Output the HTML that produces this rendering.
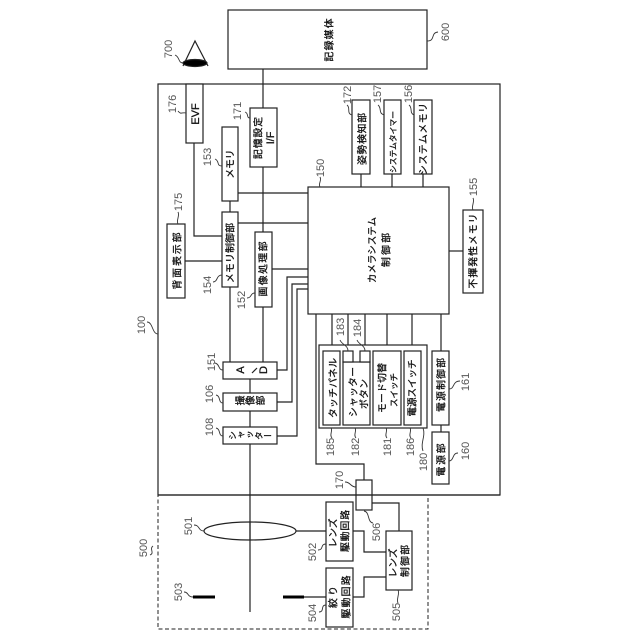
<!DOCTYPE html>
<html><head><meta charset="utf-8"><style>
html,body{margin:0;padding:0;background:#fff}
svg{display:block}
rect,line,polyline,ellipse{fill:none;stroke:#222;stroke-width:1.2}
rect{fill:#fff}
path{fill:none;stroke:#333;stroke-width:.9}
text{font-family:"Liberation Sans","Noto Sans CJK JP",sans-serif;fill:#111;stroke:#111;stroke-width:.3;text-anchor:middle;font-size:9.8px}
.n{font-size:11px;fill:#555;stroke:none}
.l{font-size:11px}
.v{writing-mode:vertical-rl}
</style></head><body>
<svg width="640" height="640" viewBox="0 0 640 640" xmlns="http://www.w3.org/2000/svg">
<!-- connectors -->
<g>
<line x1="263" y1="69" x2="263" y2="362"/>
<line x1="250" y1="379" x2="250" y2="612"/>
<rect x="158" y="84" width="342" height="411" style="fill:none"/>
<rect x="158" y="495" width="270" height="134" style="fill:none;stroke-dasharray:4 2.5;stroke-width:1"/>
<line x1="158" y1="495" x2="500" y2="495"/>
<polyline points="194,143 194,236 222,236"/>
<line x1="230" y1="201" x2="230" y2="212"/>
<line x1="230" y1="287" x2="230" y2="362"/>
<line x1="238" y1="193" x2="308" y2="193"/>
<line x1="238" y1="223" x2="308" y2="223"/>
<line x1="185" y1="261" x2="222" y2="261"/>
<line x1="272" y1="269" x2="308" y2="269"/>
<polyline points="308,277 287,277 287,370 277,370"/>
<polyline points="308,284 292,284 292,402 277,402"/>
<polyline points="308,289 297,289 297,436 277,436"/>
<polyline points="316,314 316,464 364,464 364,480"/>
<line x1="332" y1="314" x2="332" y2="351"/>
<line x1="348" y1="314" x2="348" y2="351"/>
<line x1="365" y1="314" x2="365" y2="351"/>
<line x1="387" y1="314" x2="387" y2="351"/>
<line x1="412" y1="314" x2="412" y2="351"/>
<line x1="441" y1="314" x2="441" y2="351"/>
<line x1="441" y1="425" x2="441" y2="432"/>
<line x1="361" y1="174" x2="361" y2="187"/>
<line x1="392" y1="174" x2="392" y2="187"/>
<line x1="423" y1="174" x2="423" y2="187"/>
<line x1="449" y1="251" x2="463" y2="251"/>
<line x1="296" y1="531" x2="326" y2="531"/>
<line x1="304" y1="597" x2="326" y2="597"/>
<polyline points="353,531 364,531 364,552 386,552"/>
<polyline points="353,597 364,597 364,577 386,577"/>
<polyline points="372,503 399,503 399,531"/>
</g>
<!-- boxes -->
<rect x="228" y="10" width="199" height="59"/>
<rect x="186" y="84" width="17" height="59"/>
<rect x="250" y="108" width="27" height="59"/>
<rect x="222" y="127" width="16" height="74"/>
<rect x="222" y="212" width="16" height="75"/>
<rect x="167" y="224" width="18" height="74"/>
<rect x="255" y="232" width="17" height="75"/>
<rect x="352" y="100" width="18" height="74"/>
<rect x="384" y="100" width="17" height="74"/>
<rect x="414" y="100" width="18" height="74"/>
<rect x="308" y="187" width="141" height="127"/>
<rect x="463" y="210" width="20" height="83"/>
<rect x="223" y="362" width="54" height="17"/>
<rect x="223" y="393" width="54" height="18"/>
<rect x="223" y="427" width="54" height="17"/>
<rect x="319" y="345" width="108" height="83"/>
<rect x="323" y="351" width="17" height="74"/>
<rect x="343" y="362" width="27" height="63"/>
<rect x="343" y="351" width="10" height="11"/>
<rect x="360" y="351" width="10" height="11"/>
<rect x="373" y="351" width="28" height="74"/>
<rect x="404" y="351" width="17" height="74"/>
<rect x="432" y="351" width="17" height="74"/>
<rect x="432" y="432" width="17" height="52"/>
<rect x="356" y="480" width="16" height="30" style="fill:none"/>
<rect x="326" y="502" width="27" height="59"/>
<rect x="326" y="568" width="27" height="59"/>
<rect x="386" y="531" width="26" height="59"/>
<ellipse cx="250" cy="531" rx="46" ry="9"/>
<line x1="250" y1="522" x2="250" y2="540"/>
<rect x="193" y="595.5" width="22" height="3" style="fill:#000;stroke:none"/>
<rect x="283" y="595.5" width="21" height="3" style="fill:#000;stroke:none"/>
<!-- eye -->
<polyline points="183,66 195,41 208,66"/>
<ellipse cx="195" cy="63" rx="12" ry="3.5" style="fill:#000"/>
<line x1="252" y1="373" x2="257" y2="368"/>
<!-- leaders -->
<path d="M175,55C180,57 178,63 183,63"/>
<path d="M178,111C181,115 182,112 186,113"/>
<path d="M245,112C249,113 246,118 250,118"/>
<path d="M215,159C220,161 216,166 222,166"/>
<path d="M320,177C322,181 318,183 320,187"/>
<path d="M347,105C351,108 346,113 352,115"/>
<path d="M378,105C382,108 378,113 384,115"/>
<path d="M409,105C413,108 409,113 414,115"/>
<path d="M427,41C436,41 430,33 438,32"/>
<path d="M178,212C180,216 176,220 178,224"/>
<path d="M213,282C218,282 216,275 222,275"/>
<path d="M247,298C252,298 250,293 255,293"/>
<path d="M473,198C475,202 471,206 473,210"/>
<path d="M340,340C342,345 348,345 348,351"/>
<path d="M357,340C359,345 365,345 365,351"/>
<path d="M215,363C220,364 218,370 223,370"/>
<path d="M216,395C221,396 218,403 223,403"/>
<path d="M216,428C221,429 218,436 223,436"/>
<path d="M147,322C153,322 152,334 158,334"/>
<path d="M331,428C333,431 329,435 332,438"/>
<path d="M355,428C357,431 353,435 356,438"/>
<path d="M386,428C388,431 384,435 387,438"/>
<path d="M410,428C412,431 408,435 411,438"/>
<path d="M423,428C426,436 420,443 423,451"/>
<path d="M449,389C455,389 452,381 460,381"/>
<path d="M449,461C454,461 452,453 458,453"/>
<path d="M345,482C351,482 350,487 356,487"/>
<path d="M364,511C370,512 367,522 373,523"/>
<path d="M194,525C200,525 198,531 204,531"/>
<path d="M150,555C155,553 149,549 153,546"/>
<path d="M184,592C189,592 187,597 193,597"/>
<path d="M318,550C324,550 320,544 326,544"/>
<path d="M319,612C325,612 320,605 326,605"/>
<path d="M398,590C400,594 396,599 398,603"/>
<!-- box labels -->
<text transform="translate(329,40) rotate(-90)" dy=".36em" textLength="43">記録媒体</text>
<text class="l" transform="translate(195,114) rotate(-90)" dy=".36em">EVF</text>
<text transform="translate(258,138) rotate(-90)" dy=".36em" textLength="42">記憶設定</text>
<text class="l" transform="translate(270,138) rotate(-90)" dy=".36em">I/F</text>
<text transform="translate(230,164) rotate(-90)" dy=".36em" textLength="29">メモリ</text>
<text transform="translate(230,253) rotate(-90)" dy=".36em" textLength="60">メモリ制御部</text>
<text transform="translate(177,261) rotate(-90)" dy=".36em" textLength="57">背面表示部</text>
<text transform="translate(263,269) rotate(-90)" dy=".36em" textLength="55">画像処理部</text>
<text transform="translate(362,139) rotate(-90)" dy=".36em" textLength="52">姿勢検知部</text>
<text transform="translate(393,142) rotate(-90)" dy=".36em" textLength="62" style="font-size:7.8px">システムタイマー</text>
<text transform="translate(423,139) rotate(-90)" dy=".36em" textLength="72">システムメモリ</text>
<text transform="translate(372,250) rotate(-90)" dy=".36em" textLength="66" style="font-size:9.4px">カメラシステム</text>
<text transform="translate(386,250) rotate(-90)" dy=".36em" textLength="34">制御部</text>
<text transform="translate(473,251) rotate(-90)" dy=".36em" textLength="75">不揮発性メモリ</text>
<text class="l" transform="translate(240,370) rotate(-90)" dy=".36em">A</text>
<text class="l" transform="translate(263,370) rotate(-90)" dy=".36em">D</text>
<text class="v" transform="translate(250,402) rotate(-90)" textLength="30">撮像部</text>
<text class="v" transform="translate(250,436) rotate(-90)" textLength="44" style="font-size:8.8px">シャッター</text>
<text transform="translate(333,388) rotate(-90)" dy=".36em" textLength="60">タッチパネル</text>
<text transform="translate(353,392) rotate(-90)" dy=".36em" textLength="50">シャッター</text>
<text transform="translate(364,394) rotate(-90)" dy=".36em" textLength="30">ボタン</text>
<text transform="translate(382,388) rotate(-90)" dy=".36em" textLength="50">モード切替</text>
<text transform="translate(394,390) rotate(-90)" dy=".36em" textLength="34" style="font-size:8.5px">スイッチ</text>
<text transform="translate(412,388) rotate(-90)" dy=".36em" textLength="57" style="font-size:9.5px">電源スイッチ</text>
<text transform="translate(441,385) rotate(-90)" dy=".36em" textLength="54">電源制御部</text>
<text transform="translate(441,460) rotate(-90)" dy=".36em" textLength="33">電源部</text>
<text transform="translate(333,533) rotate(-90)" dy=".36em" textLength="29">レンズ</text>
<text transform="translate(345,531) rotate(-90)" dy=".36em" textLength="42">駆動回路</text>
<text transform="translate(333,597) rotate(-90)" dy=".36em" textLength="22">絞り</text>
<text transform="translate(346,597) rotate(-90)" dy=".36em" textLength="43">駆動回路</text>
<text transform="translate(393,563) rotate(-90)" dy=".36em" textLength="29">レンズ</text>
<text transform="translate(405,561) rotate(-90)" dy=".36em" textLength="32">制御部</text>
<!-- reference numbers -->
<text class="n" transform="translate(168,49) rotate(-90)" dy=".36em">700</text>
<text class="n" transform="translate(172,104) rotate(-90)" dy=".36em">176</text>
<text class="n" transform="translate(237,111) rotate(-90)" dy=".36em">171</text>
<text class="n" transform="translate(207,157) rotate(-90)" dy=".36em">153</text>
<text class="n" transform="translate(320,168) rotate(-90)" dy=".36em">150</text>
<text class="n" transform="translate(347,95) rotate(-90)" dy=".36em">172</text>
<text class="n" transform="translate(377,94) rotate(-90)" dy=".36em">157</text>
<text class="n" transform="translate(408,94) rotate(-90)" dy=".36em">156</text>
<text class="n" transform="translate(445,32) rotate(-90)" dy=".36em">600</text>
<text class="n" transform="translate(178,202) rotate(-90)" dy=".36em">175</text>
<text class="n" transform="translate(207,285) rotate(-90)" dy=".36em">154</text>
<text class="n" transform="translate(241,300) rotate(-90)" dy=".36em">152</text>
<text class="n" transform="translate(473,187) rotate(-90)" dy=".36em">155</text>
<text class="n" transform="translate(340,327) rotate(-90)" dy=".36em">183</text>
<text class="n" transform="translate(357,328) rotate(-90)" dy=".36em">184</text>
<text class="n" transform="translate(211,362) rotate(-90)" dy=".36em">151</text>
<text class="n" transform="translate(209,394) rotate(-90)" dy=".36em">106</text>
<text class="n" transform="translate(209,427) rotate(-90)" dy=".36em">108</text>
<text class="n" transform="translate(141,325) rotate(-90)" dy=".36em">100</text>
<text class="n" transform="translate(330,447) rotate(-90)" dy=".36em">185</text>
<text class="n" transform="translate(355,447) rotate(-90)" dy=".36em">182</text>
<text class="n" transform="translate(387,447) rotate(-90)" dy=".36em">181</text>
<text class="n" transform="translate(410,447) rotate(-90)" dy=".36em">186</text>
<text class="n" transform="translate(423,462) rotate(-90)" dy=".36em">180</text>
<text class="n" transform="translate(465,382) rotate(-90)" dy=".36em">161</text>
<text class="n" transform="translate(465,451) rotate(-90)" dy=".36em">160</text>
<text class="n" transform="translate(339,480) rotate(-90)" dy=".36em">170</text>
<text class="n" transform="translate(376,532) rotate(-90)" dy=".36em">506</text>
<text class="n" transform="translate(188,526) rotate(-90)" dy=".36em">501</text>
<text class="n" transform="translate(143,548) rotate(-90)" dy=".36em">500</text>
<text class="n" transform="translate(178,592) rotate(-90)" dy=".36em">503</text>
<text class="n" transform="translate(312,552) rotate(-90)" dy=".36em">502</text>
<text class="n" transform="translate(312,613) rotate(-90)" dy=".36em">504</text>
<text class="n" transform="translate(396,612) rotate(-90)" dy=".36em">505</text>
</svg>
</body></html>
